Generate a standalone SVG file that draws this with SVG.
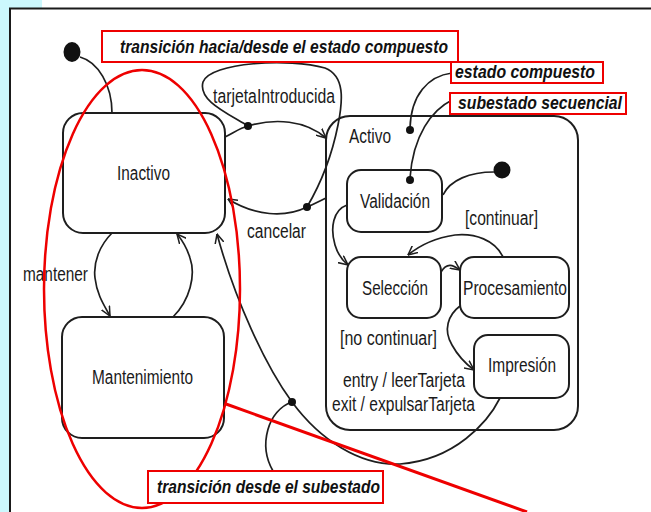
<svg xmlns="http://www.w3.org/2000/svg" width="651" height="512" viewBox="0 0 651 512">
  <defs>
    <style>
      .state { fill: #ffffff; stroke: #1e1e1e; stroke-width: 2; }
      .lbl { font-family: "Liberation Sans", Arial, sans-serif; font-size: 20px; fill: #1a1a1a; }
      .note { font-family: "Liberation Sans", Arial, sans-serif; font-size: 19px; font-weight: bold; font-style: italic; fill: #111111; }
      .note.small { font-size: 17.5px; }
      .edge { fill: none; stroke: #1e1e1e; stroke-width: 1.7; }
      .red { fill: none; stroke: #ee0000; stroke-width: 2.5; }
      .redbox { fill: #ffffff; stroke: #ee0000; stroke-width: 2; }
      .dot { fill: #111111; }
    </style>
    <marker id="open" viewBox="0 0 10 10" refX="9.5" refY="5" markerWidth="10" markerHeight="10" markerUnits="userSpaceOnUse" orient="auto">
      <path d="M0,0.5 L9.5,5 L0,9.5" fill="none" stroke="#1e1e1e" stroke-width="1.5"/>
    </marker>
  </defs>

  <!-- page background and frame -->
  <rect x="0" y="0" width="651" height="512" fill="#ffffff"/>
  <rect x="0" y="0" width="42" height="9" fill="#ccf8fd"/>
  <rect x="0" y="0" width="10" height="512" fill="#ccf8fd"/>
  <path d="M10,512 L10,8.5 L651,8.5" fill="none" stroke="#1a1a1a" stroke-width="2"/>

  <!-- states -->
  <g id="initial">
    <ellipse cx="72" cy="52" rx="8.5" ry="10" class="dot"/>
  </g>
  <g id="inactivo">
    <rect x="63" y="113" width="162" height="120" rx="20" class="state"/>
    <text x="117" y="180" class="lbl" textLength="53" lengthAdjust="spacingAndGlyphs">Inactivo</text>
  </g>
  <g id="mantenimiento">
    <rect x="62" y="317" width="162" height="121" rx="20" class="state"/>
    <text x="92" y="384" class="lbl" textLength="101" lengthAdjust="spacingAndGlyphs">Mantenimiento</text>
  </g>
  <g id="activo">
    <rect x="326" y="116" width="252" height="314" rx="24" class="state"/>
    <text x="349" y="143" class="lbl" textLength="42" lengthAdjust="spacingAndGlyphs">Activo</text>
    <text x="343" y="387" class="lbl" textLength="122" lengthAdjust="spacingAndGlyphs">entry / leerTarjeta</text>
    <text x="332" y="411" class="lbl" textLength="143" lengthAdjust="spacingAndGlyphs">exit / expulsarTarjeta</text>
  </g>
  <g id="initial-activo">
    <circle cx="502" cy="170" r="8.5" class="dot"/>
  </g>
  <g id="validacion">
    <rect x="347" y="170" width="95" height="62" rx="14" class="state"/>
    <text x="360" y="208" class="lbl" textLength="70" lengthAdjust="spacingAndGlyphs">Validación</text>
  </g>
  <g id="seleccion">
    <rect x="347" y="257" width="94" height="61" rx="14" class="state"/>
    <text x="362" y="295" class="lbl" textLength="66" lengthAdjust="spacingAndGlyphs">Selección</text>
  </g>
  <g id="procesamiento">
    <rect x="460" y="257" width="109" height="61" rx="14" class="state"/>
    <text x="463" y="295" class="lbl" textLength="104" lengthAdjust="spacingAndGlyphs">Procesamiento</text>
  </g>
  <g id="impresion">
    <rect x="474" y="335" width="95" height="63" rx="14" class="state"/>
    <text x="488" y="372" class="lbl" textLength="68" lengthAdjust="spacingAndGlyphs">Impresión</text>
  </g>

  <!-- transitions -->
  <g id="connectors">
    <path class="edge" d="M80,57 C98,62 112,85 112,113"/>
    <path class="edge" d="M225,137 C235,132 240,128 248,126 C275,118 305,120 326,138" marker-end="url(#open)"/>
    <path class="edge" d="M326,198 C318,202 312,205 307,207 C285,218 255,216 228,199" marker-end="url(#open)"/>
    <path class="edge" d="M112,233 C100,245 93,262 95,278 C97,295 104,305 110,316" marker-end="url(#open)"/>
    <path class="edge" d="M173,317 C190,300 196,275 190,258 C187,248 182,240 177,234" marker-end="url(#open)"/>
    <path class="edge" d="M500,398 C488,422 455,460 400,464 C360,466 320,440 292,402 C265,365 235,300 217,234" marker-end="url(#open)"/>
    <path class="edge" d="M494,172 C470,172 450,180 443,195"/>
    <path class="edge" d="M347,205 C333,210 330,228 335,245 C338,255 343,261 348,265" marker-end="url(#open)"/>
    <path class="edge" d="M503,257 C495,240 475,233 455,235 C435,238 420,245 408,255" marker-end="url(#open)"/>
    <path class="edge" d="M441,272 C447,262 453,265 460,270" marker-end="url(#open)"/>
    <path class="edge" d="M460,306 C448,315 443,330 452,345 C458,356 466,364 474,370" marker-end="url(#open)"/>
    <!-- guide lines to the transition points and substates -->
    <path class="edge" d="M248,126 C225,112 198,100 203,82 C210,62 290,58 325,68 C345,76 343,100 338,125 C332,155 320,185 307,207"/>
    <path class="edge" d="M292,402 C268,410 258,445 273,471"/>
    <path class="edge" d="M452,73 C428,76 411,95 410,128"/>
    <path class="edge" d="M452,100 C432,110 413,135 410,178"/>
    <circle cx="248" cy="126" r="4" class="dot"/>
    <circle cx="307" cy="207" r="4" class="dot"/>
    <circle cx="292" cy="402" r="4" class="dot"/>
    <circle cx="410" cy="130" r="4" class="dot"/>
    <circle cx="410" cy="180" r="4" class="dot"/>
    <text x="213" y="103" class="lbl" textLength="122" lengthAdjust="spacingAndGlyphs">tarjetaIntroducida</text>
    <text x="247" y="238" class="lbl" textLength="59" lengthAdjust="spacingAndGlyphs">cancelar</text>
    <text x="23" y="281" class="lbl" textLength="65" lengthAdjust="spacingAndGlyphs">mantener</text>
    <text x="465" y="225" class="lbl" textLength="73" lengthAdjust="spacingAndGlyphs">[continuar]</text>
    <text x="340" y="345" class="lbl" textLength="97" lengthAdjust="spacingAndGlyphs">[no continuar]</text>
  </g>

  <!-- red callouts -->
  <g id="callouts">
    <ellipse cx="142" cy="289" rx="98" ry="219" class="red"/>
    <path d="M226,404 L527,512" fill="none" stroke="#ee0000" stroke-width="3"/>
    <rect x="102" y="31" width="356" height="31" class="redbox"/>
    <text x="120" y="53" class="note" textLength="328" lengthAdjust="spacingAndGlyphs">transición hacia/desde el estado compuesto</text>
    <rect x="451" y="62" width="152" height="21" class="redbox"/>
    <text x="455" y="78" class="note small" textLength="140" lengthAdjust="spacingAndGlyphs">estado compuesto</text>
    <rect x="450" y="93" width="176" height="21" class="redbox"/>
    <text x="458" y="108.5" class="note small" textLength="164" lengthAdjust="spacingAndGlyphs">subestado secuencial</text>
    <rect x="148" y="471" width="235" height="32" class="redbox"/>
    <text x="157" y="493" class="note" textLength="223" lengthAdjust="spacingAndGlyphs">transición desde el subestado</text>
  </g>
</svg>
